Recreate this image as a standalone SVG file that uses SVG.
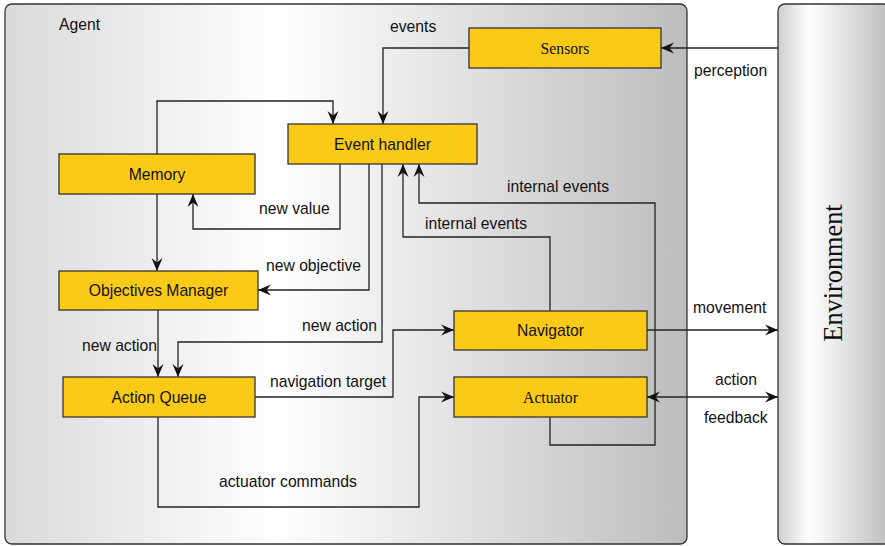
<svg xmlns="http://www.w3.org/2000/svg" width="885" height="546" viewBox="0 0 885 546">
  <defs>
    <linearGradient id="agentFill" x1="0" y1="0" x2="1" y2="0">
      <stop offset="0" stop-color="#dadada"/>
      <stop offset="0.4" stop-color="#ffffff"/>
      <stop offset="1" stop-color="#bdbdbd"/>
    </linearGradient>
    <linearGradient id="envFill" x1="0" y1="0" x2="1" y2="0">
      <stop offset="0" stop-color="#cfcfcf"/>
      <stop offset="0.28" stop-color="#ffffff"/>
      <stop offset="1" stop-color="#bdbdbd"/>
    </linearGradient>
    <marker id="arrow" viewBox="-14 -6 14 12" markerWidth="14" markerHeight="12" refX="0" refY="0" orient="auto-start-reverse" markerUnits="userSpaceOnUse">
      <path d="M0,0 L-13,-5.5 L-8.5,0 L-13,5.5 Z" fill="#111"/>
    </marker>
    <style>
      .frame { stroke: #333; stroke-width: 1.3; }
      .box { fill: #fbca16; stroke: #333; stroke-width: 1.3; }
      .sans { font-family: "Liberation Sans", Arial, sans-serif; font-size: 15.7px; fill: #111; }
      .serif { font-family: "Liberation Serif", "Times New Roman", serif; font-size: 15.7px; fill: #111; }
      .mid { text-anchor: middle; }
      .wire { fill: none; stroke: #222; stroke-width: 1.3; }
      .arr { marker-end: url(#arrow); }
    </style>
  </defs>

  <!-- containers -->
  <g id="agent">
    <rect class="frame" x="5" y="4" width="682" height="540" rx="7" fill="url(#agentFill)"/>
    <text class="sans" x="59" y="30">Agent</text>
  </g>
  <g id="environment">
    <rect class="frame" x="778" y="4" width="112" height="540" rx="7" fill="url(#envFill)"/>
    <text class="serif mid" transform="translate(842,273) rotate(-90)" style="font-size:26.3px">Environment</text>
  </g>

  <!-- connectors -->
  <g id="connectors">
    <path class="wire arr" d="M469,48 H383 V124"/>
    <path class="wire arr" d="M157,154 V101 H333 V124"/>
    <path class="wire arr" d="M157,194 V271"/>
    <path class="wire arr" d="M340,164 V229 H193 V194"/>
    <path class="wire arr" d="M369,164 V290 H258"/>
    <path class="wire arr" d="M382,164 V342 H178 V377"/>
    <path class="wire arr" d="M158,310 V377"/>
    <path class="wire arr" d="M550,311 V237 H403 V164"/>
    <path class="wire arr" d="M550,417 V445 H655 V203 H419 V164"/>
    <path class="wire arr" d="M255,397 H393 V330 H454"/>
    <path class="wire arr" d="M158,417 V507 H419 V397 H454"/>
    <path class="wire arr" d="M647,330 H778"/>
    <path class="wire arr" d="M647,397 H778" marker-start="url(#arrow)"/>
    <path class="wire arr" d="M778,48 H661"/>

    <text class="sans" x="390" y="32">events</text>
    <text class="sans" x="694" y="76">perception</text>
    <text class="sans" x="507" y="192">internal events</text>
    <text class="sans" x="425" y="229">internal events</text>
    <text class="sans" x="259" y="214">new value</text>
    <text class="sans" x="266" y="271">new objective</text>
    <text class="sans" x="302" y="331">new action</text>
    <text class="sans" x="82" y="351">new action</text>
    <text class="sans" x="270" y="387">navigation target</text>
    <text class="sans" x="219" y="487">actuator commands</text>
    <text class="sans" x="693" y="313">movement</text>
    <text class="sans" x="715" y="385">action</text>
    <text class="sans" x="704" y="423">feedback</text>
  </g>

  <!-- nodes -->
  <g id="sensors">
    <rect class="box" x="469" y="28" width="192" height="40"/>
    <text class="serif mid" x="565" y="53.5">Sensors</text>
  </g>
  <g id="event-handler">
    <rect class="box" x="288" y="124" width="189" height="40"/>
    <text class="sans mid" x="382.5" y="149.5">Event handler</text>
  </g>
  <g id="memory">
    <rect class="box" x="59" y="154" width="196" height="40"/>
    <text class="sans mid" x="157" y="179.5">Memory</text>
  </g>
  <g id="objectives-manager">
    <rect class="box" x="59" y="271" width="199" height="39"/>
    <text class="sans mid" x="158.5" y="296">Objectives Manager</text>
  </g>
  <g id="action-queue">
    <rect class="box" x="63" y="377" width="192" height="40"/>
    <text class="sans mid" x="159" y="402.5">Action Queue</text>
  </g>
  <g id="navigator">
    <rect class="box" x="454" y="311" width="193" height="39"/>
    <text class="sans mid" x="550.5" y="336">Navigator</text>
  </g>
  <g id="actuator">
    <rect class="box" x="454" y="377" width="193" height="40"/>
    <text class="serif mid" x="550.5" y="402.5">Actuator</text>
  </g>
</svg>
